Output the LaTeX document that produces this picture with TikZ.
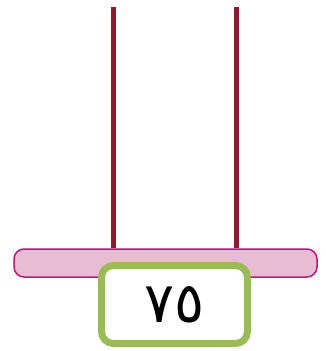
\documentclass[tikz,border=0pt]{standalone}
\usepackage{fontspec}
\newfontfamily\arabicfont[Script=Arabic]{DejaVu Sans}
\TeXXeTstate=1
\usetikzlibrary{positioning}
\definecolor{rodred}{HTML}{8E1B2B}
\definecolor{barpink}{HTML}{E8BDD3}
\definecolor{barrim}{HTML}{B8197A}
\definecolor{boxgreen}{HTML}{9BBB59}
\tikzset{
  rod/.style={draw=rodred, line width=5pt},
  shelf/.style={draw=barrim, fill=barpink, line width=1.5pt, rounded corners=10pt,
    minimum width=303pt, minimum height=28pt, inner sep=0pt},
  valuebox/.style={draw=boxgreen, fill=white, line width=7pt, rounded corners=12pt,
    minimum width=146pt, minimum height=78pt, inner sep=0pt}
}
\begin{document}
\begin{tikzpicture}[x=1pt,y=-1pt]
                \useasboundingbox (0,0) rectangle (326,351);
                \coordinate (topL) at (113,7);
                \coordinate (topR) at (236,7);

                \node[shelf] (shelf) at (165.5,263) {};
                \draw[rod] (topL)-- (topL |- shelf.north);
                \draw[rod] (topR)-- (topR |- shelf.north);
                \node[valuebox] (value) at (174.5,304.5)
                    {\fontsize{56}{58}\selectfont\arabicfont\beginR\beginL ٧٥\endL\endR};

            \end{tikzpicture}
\end{document}
